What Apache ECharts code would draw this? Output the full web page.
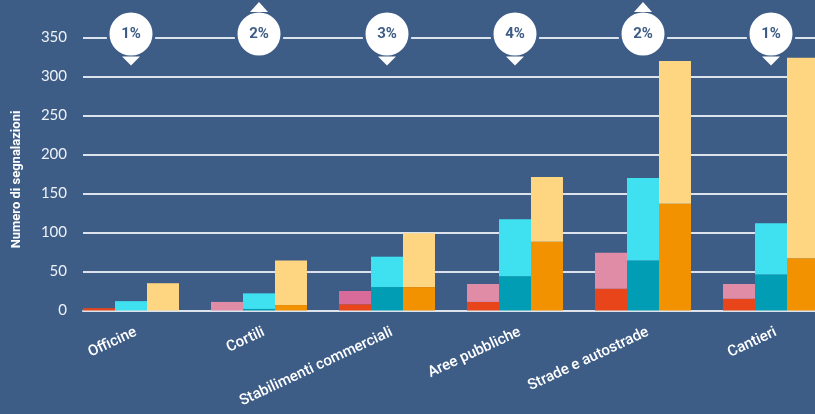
<!DOCTYPE html>
<html>
<head>
<meta charset="utf-8">
<script src="https://cdn.jsdelivr.net/npm/echarts@6/dist/echarts.min.js"></script>
<style>
  html, body { margin: 0; padding: 0; background: #3d5c86; }
  #chart { width: 815px; height: 414px; }
</style>
</head>
<body>
<div id="chart"></div>
<script>
// dati
const categories = ["Officine", "Cortili", "Stabilimenti commerciali", "Aree pubbliche", "Strade e autostrade", "Cantieri"]
const redBase = [3, 0, 8, 11, 28, 15]
const pinkTop = [0, 11, 17, 23, 46, 19]
const tealBase = [0, 2, 30, 44, 64, 46]
const cyanTop = [12, 20, 39, 73, 106, 66]
const orangeBase = [0, 7, 30, 88, 137, 67]
const yellowTop = [35, 57, 69, 83, 183, 257]
const percents = [1, 2, 3, 4, 2, 1]
const trends = ["down", "up", "down", "down", "up", "down"]
const yTicks = { min: 0, max: 350, interval: 50 }

const bg = "#3d5c86"
const chart = echarts.init(document.getElementById("chart"))

function bar(name, stack, data, color) {
  return {
    name: name,
    type: "bar",
    stack: stack,
    xAxisIndex: 0,
    yAxisIndex: 0,
    barGap: 0,
    barCategoryGap: 0,
    itemStyle: { color: color },
    data: data,
  }
}

// cerchio con percentuale + freccia, sopra ciascun gruppo
function marker(name, data, symbol, size, offset, rotate) {
  return {
    name: name,
    type: "scatter",
    xAxisIndex: 0,
    yAxisIndex: 0,
    symbol: symbol,
    symbolSize: size,
    symbolOffset: offset,
    symbolRotate: rotate,
    z: 5,
    itemStyle: { color: "#ffffff", opacity: 1 },
    data: data,
  }
}

const option = {
  backgroundColor: bg,
  animation: false,
  grid: [
    { left: 83, top: 37.5, width: 768, height: 273, outerBoundsMode: "none", containLabel: false },
    // stessa griglia spostata: solo per le etichette delle categorie
    { left: 72, top: 37.5, width: 768, height: 273, outerBoundsMode: "none", containLabel: false },
  ],
  xAxis: [
    {
      type: "category",
      gridIndex: 0,
      data: categories,
      axisLine: { lineStyle: { color: "#dde3ec", width: 2 } },
      axisTick: { show: false },
      axisLabel: { show: false },
    },
    {
      type: "category",
      gridIndex: 1,
      data: categories,
      axisLine: { show: false },
      axisTick: { show: false },
      axisLabel: {
        rotate: 25,
        margin: 21,
        interval: 0,
        color: "#ffffff",
        fontFamily: "Roboto",
        fontWeight: 500,
        fontSize: 15,
      },
    },
  ],
  yAxis: [
    {
      type: "value",
      gridIndex: 0,
      min: yTicks.min,
      max: yTicks.max,
      interval: yTicks.interval,
      name: "Numero di segnalazioni",
      nameLocation: "middle",
      nameGap: 60,
      nameTextStyle: {
        color: "#ffffff",
        fontFamily: "Roboto",
        fontWeight: "bold",
        fontSize: 13,
        padding: [0, 11, 0, 0],
      },
      axisLine: { show: false },
      axisTick: { show: false },
      axisLabel: { color: "#eef2f7", fontFamily: "Lato", fontSize: 15, margin: 16 },
      splitLine: { lineStyle: { color: "#dde3ec", width: 2 } },
    },
    { type: "value", gridIndex: 1, show: false, min: 0, max: 350 },
  ],
  series: [
    bar("rosso", "a", redBase, "#e8461a"),
    bar("rosa", "a", pinkTop, (p) => (p.dataIndex === 2 ? "#d96b9b" : "#e08ca6")),
    bar("petrolio", "b", tealBase, "#009db4"),
    bar("ciano", "b", cyanTop, "#3fe0f0"),
    bar("arancio", "c", orangeBase, "#f39200"),
    bar("giallo", "c", yellowTop, "#fed580"),
    // colonna vuota: lascia lo spazio tra i gruppi
    bar("vuoto", "d", categories.map(() => 0), "rgba(0,0,0,0)"),
    Object.assign(
      marker("perc", percents.map((p) => yTicks.max), "circle", 46, [-16, -3.5], 0),
      {
        itemStyle: { color: "#ffffff", opacity: 1, borderColor: bg, borderWidth: 3 },
        label: {
          show: true,
          position: "inside",
          color: bg,
          fontFamily: "Roboto",
          fontWeight: "bold",
          fontSize: 15,
          formatter: (p) => percents[p.dataIndex] + "%",
        },
      }
    ),
    marker("giu", trends.map((t) => (t === "down" ? yTicks.max : null)), "triangle", [18, 9], [-16, 23.5], 180),
    marker("su", trends.map((t) => (t === "up" ? yTicks.max : null)), "triangle", [18, 10], [-16, -30.5], 0),
  ],
}

chart.setOption(option)
</script>
</body>
</html>
